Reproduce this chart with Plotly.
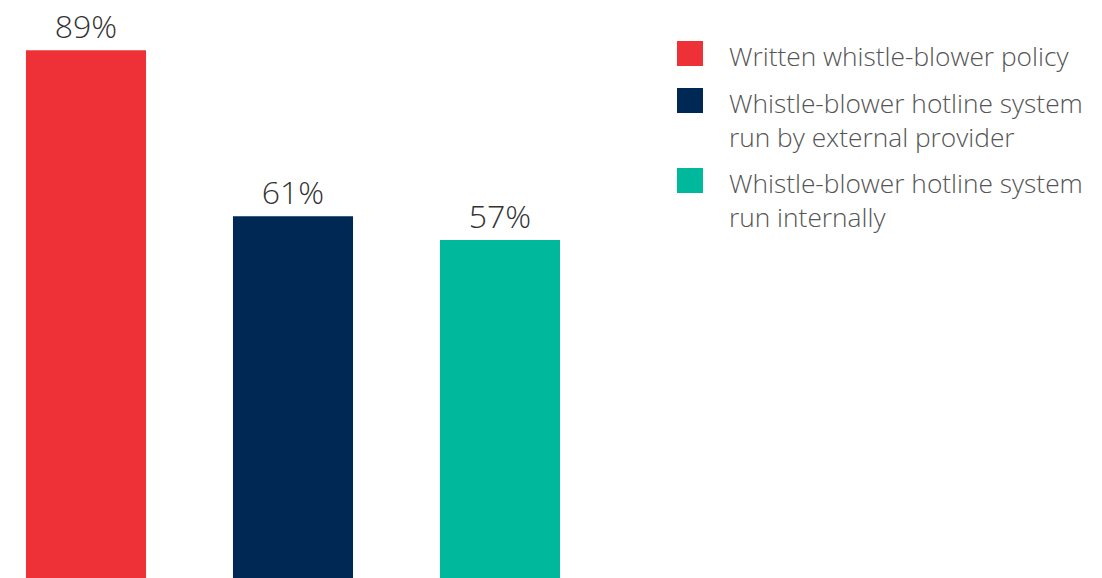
import plotly.graph_objects as go

categories = ["Written whistle-blower policy",
              "Whistle-blower hotline system<br>run by external provider",
              "Whistle-blower hotline system<br>run internally"]
values = [89, 61, 57]
labels = ["89%", "61%", "57%"]
colors = ["#EE3136", "#002855", "#00B89C"]

W, H = 1102, 578
FONT = "Open Sans"

fig = go.Figure()
fig.add_trace(go.Bar(
    x=[0, 1, 2], y=values, width=0.58,
    marker=dict(color=colors, line=dict(width=0)),
    text=labels, textposition="outside", cliponaxis=False,
    textfont=dict(family=FONT, size=32, color="#333333", weight=300),
    showlegend=False, hoverinfo="skip",
))

# legend drawn as squares + text in pixel-based paper coords
sq_tops = [41, 88, 168]
txt_mid = [56, 120, 199.5]
for i, cat in enumerate(categories):
    fig.add_shape(type="rect", xref="paper", yref="paper",
                  x0=677 / W, x1=703 / W,
                  y0=1 - (sq_tops[i] + 25) / H, y1=1 - sq_tops[i] / H,
                  fillcolor=colors[i], line=dict(width=0))
    fig.add_annotation(xref="paper", yref="paper", x=727 / W, y=1 - txt_mid[i] / H,
                       xanchor="left", yanchor="middle", align="left",
                       text=cat, showarrow=False,
                       font=dict(family=FONT, size=26.3, color="#555555", weight=300))

fig.update_layout(
    width=W, height=H,
    margin=dict(l=0, r=0, t=0, b=0),
    paper_bgcolor="white", plot_bgcolor="white",
    xaxis=dict(range=[-86 / 207, (W - 86) / 207], visible=False),
    yaxis=dict(range=[0, H / 5.93], visible=False),
    font=dict(family=FONT),
)

fig.write_html("out.html", config={"displayModeBar": False},
               post_script="document.body.style.margin='0';")
